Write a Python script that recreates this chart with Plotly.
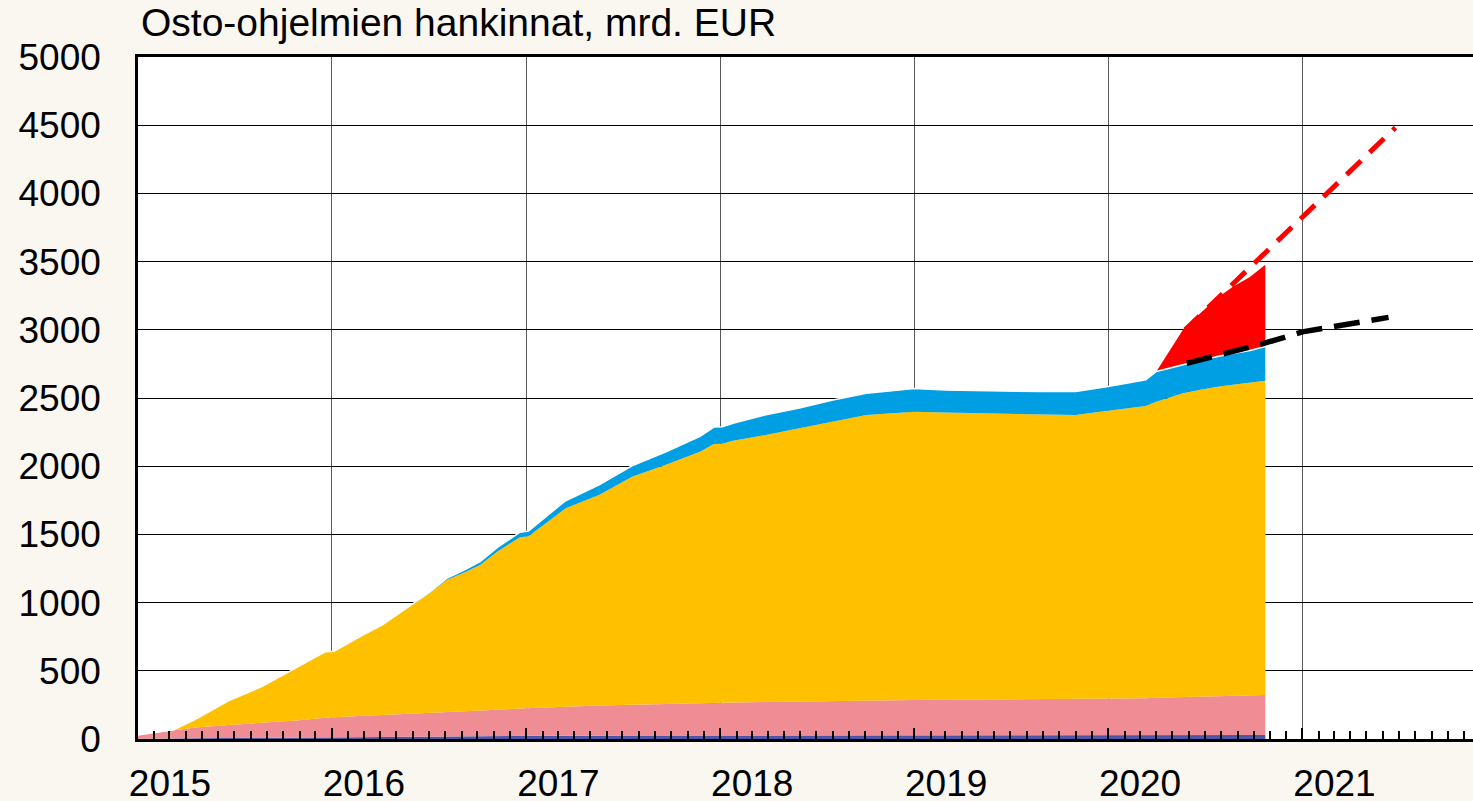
import plotly.graph_objects as go

# Osto-ohjelmien kumulatiiviset hankinnat, mrd. EUR (luettu kuvasta)
dates = [
    "2015-01-01", "2015-02-01", "2015-03-09", "2015-04-19", "2015-06-21", "2015-08-22",
    "2015-10-25", "2015-12-20", "2016-01-05", "2016-02-28", "2016-04-05", "2016-05-01",
    "2016-07-03", "2016-08-04", "2016-09-04", "2016-10-06", "2016-11-07", "2016-12-20",
    "2017-01-05", "2017-02-15", "2017-03-16", "2017-05-18", "2017-07-19", "2017-09-22",
    "2017-11-24", "2017-12-20", "2018-01-05", "2018-01-25", "2018-03-28", "2018-05-30",
    "2018-08-01", "2018-10-03", "2018-12-05", "2019-01-01", "2019-03-01", "2019-05-01",
    "2019-07-01", "2019-09-01", "2019-11-01", "2020-01-01", "2020-03-12", "2020-04-01",
    "2020-05-21", "2020-06-23", "2020-07-25", "2020-08-23", "2020-09-24", "2020-10-23",
]
abspp = [2, 3, 5, 6, 8, 10, 13, 15, 15, 17, 18, 18,
         19, 20, 20, 21, 22, 23, 23, 23, 24, 24, 24, 25,
         25, 25, 25, 25, 26, 26, 26, 27, 27, 27, 27, 27,
         27, 27, 27, 28, 28, 29, 29, 29, 30, 30, 30, 30]
cbpp3 = [27, 42, 63, 78, 95, 108, 122, 141, 145, 153, 158, 162,
         171, 176, 182, 187, 192, 201, 204, 209, 212, 221, 228, 233,
         239, 241, 242, 243, 246, 250, 253, 255, 258, 259, 260, 261,
         262, 263, 264, 265, 270, 273, 279, 283, 286, 289, 291, 293]
pspp = [0, 0, 0, 60, 178, 266, 383, 484, 484, 592, 660, 725,
        880, 970, 1015, 1068, 1159, 1256, 1259, 1374, 1455, 1544, 1671, 1755,
        1842, 1897, 1897, 1919, 1957, 2002, 2047, 2093, 2107, 2114, 2106, 2100,
        2094, 2090, 2084, 2114, 2143, 2171, 2226, 2248, 2267, 2279, 2291, 2304]
cspp = [0, 0, 0, 0, 0, 0, 0, 0, 0, 0, 0, 0,
        6, 12, 18, 24, 30, 36, 38, 50, 56, 74, 80, 94,
        112, 124, 125, 128, 148, 148, 160, 160, 168, 170, 166, 166,
        164, 167, 172, 177, 192, 222, 210, 216, 222, 228, 236, 250]
pepp = [0] * 41 + [0, 257, 348, 430, 489, 540, 599]

# ennusteviivat
app_proj_dates = ["2020-05-28", "2020-10-20", "2021-01-01", "2021-06-12"]
app_proj = [2754, 2900, 2985, 3091]
pepp_proj_dates = ["2020-05-25", "2021-06-25"]
pepp_proj = [3000, 4482]

year_ticks = ["2015-01-01", "2016-01-01", "2017-01-01", "2018-01-01",
              "2019-01-01", "2020-01-01", "2021-01-01"]
year_labels = ["2015", "2016", "2017", "2018", "2019", "2020", "2021"]

FONT = "Liberation Sans, Arial, sans-serif"

fig = go.Figure()

series = [
    ("ABSPP", abspp, "#4F55A6", 0, "#4F55A6"),
    ("CBPP3", cbpp3, "#F08C93", 0, "#F08C93"),
    ("PSPP", pspp, "#FFC000", 0, "#FFC000"),
    ("CSPP", cspp, "#009FE3", 1.5, "#FFFFFF"),
    ("PEPP", pepp, "#FF0000", 0, "#FF0000"),
]
for name, vals, col, lw, lcol in series:
    fig.add_trace(go.Scatter(
        x=dates, y=vals, name=name, mode="lines",
        stackgroup="one", fillcolor=col,
        line=dict(width=lw, color=lcol),
        hoverinfo="skip",
    ))

fig.add_trace(go.Scatter(
    x=app_proj_dates, y=app_proj, mode="lines", name="APP ennuste",
    line=dict(color="#000000", width=5.5, dash="26px,12px"),
    hoverinfo="skip",
))
fig.add_trace(go.Scatter(
    x=pepp_proj_dates, y=pepp_proj, mode="lines", name="PEPP ennuste",
    line=dict(color="#FF0000", width=5, dash="20px,12px"),
    hoverinfo="skip",
))

fig.update_layout(
    width=1473, height=801,
    margin=dict(l=138, r=0, t=57, b=62),
    paper_bgcolor="#FAF6F0",
    plot_bgcolor="#FFFFFF",
    showlegend=False,
    font=dict(family=FONT, size=37, color="#000000"),
)

fig.update_xaxes(
    type="date",
    range=["2015-01-01", "2021-11-18"],
    tickmode="array", tickvals=year_ticks, ticktext=year_labels,
    ticklabelshift=32, ticklabelstandoff=10,
    ticks="inside", ticklen=11, tickwidth=1.5, tickcolor="#000000",
    minor=dict(dtick="M1", tick0="2015-01-01", ticks="inside", ticklen=8,
               tickwidth=1.5, tickcolor="#000000", showgrid=False),
    showgrid=True, gridcolor="#5A5A5A", gridwidth=1,
    showline=True, linecolor="#000000", linewidth=2.5, mirror=True,
    zeroline=False, automargin=False,
    tickfont=dict(family=FONT, size=37, color="#000000"),
)
fig.update_yaxes(
    range=[0, 5000], dtick=500, tick0=0,
    showgrid=True, gridcolor="#000000", gridwidth=1,
    showline=True, linecolor="#000000", linewidth=2.5,
    ticks="", ticklabelstandoff=27,
    zeroline=False, automargin=False,
    tickfont=dict(family=FONT, size=37, color="#000000"),
)

fig.add_annotation(
    text="Osto-ohjelmien hankinnat, mrd. EUR",
    xref="paper", yref="paper", x=0, y=1,
    xanchor="left", yanchor="bottom", xshift=1, yshift=11,
    showarrow=False,
    font=dict(family=FONT, size=39, color="#000000"),
)

fig.write_html("out.html", config={"displayModeBar": False},
               post_script="document.body.style.margin='0';")
